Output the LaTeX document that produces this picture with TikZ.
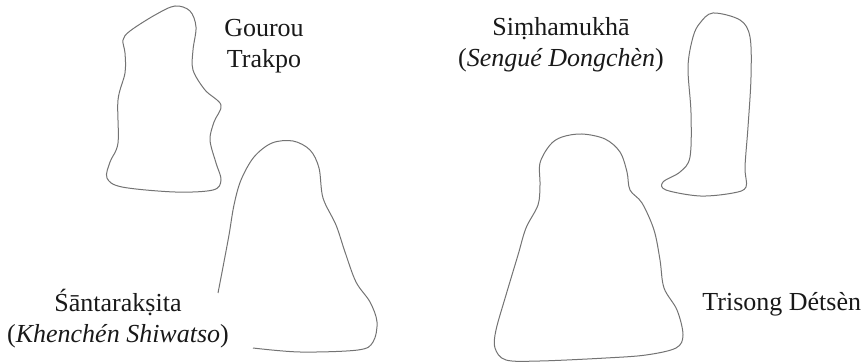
\documentclass[tikz,border=0pt]{standalone}
\usepackage{fontspec}
\setmainfont{Liberation Serif}
\usepackage{xcolor}
\usetikzlibrary{positioning}

\begin{document}
\begin{tikzpicture}[x=0.5pt, y=-0.5pt,
    contour/.style={draw=black!55, line width=0.5pt, line join=round},
    lbl/.style={inner sep=0pt, align=center, anchor=base, text=black!90,
                font=\fontsize{13}{15.5}\selectfont}
  ]
  \useasboundingbox (0,0) rectangle (866,362);

  % labels (anchor = baseline of the last line)
  \node[lbl] (gourou) at (264,68) {Gourou\\Trakpo};
  \node[lbl] (simha) at (561,67) {Si\d{m}hamukh\={a}\\(\textit{Sengu\'e Dongch\`en})};
  \node[lbl] (santa) at (118,343) {\'{S}\={a}ntarak\d{s}ita\\(\textit{Khench\'en Shiwatso})};
  \node[lbl, anchor=base west] (trisong) at (702,311) {Trisong D\'ets\`en};

  % outlines
  \draw[contour] plot[smooth cycle, tension=0.55] coordinates {
    (123,40) (130,31) (155,15) (175,6) (190,11) (196,27) (193,50) (193,70)
    (205,90) (221,105) (214,122) (210,140) (216,163) (221,180) (213,190)
    (175,192) (122,187) (107,178) (110,162) (118,143) (118,100) (125,73) (125,53)};
  \draw[contour] plot[smooth, tension=0.55] coordinates {
    (253,348) (300,352) (358,350) (373,342) (377,322) (370,302) (356,282)
    (345,252) (336,225) (323,198) (319,168) (310,150) (293,141) (272,143)
    (254,157) (241,180) (234,205) (229,235) (223,267) (218,293)};
  \draw[contour] plot[smooth cycle, tension=0.55] coordinates {
    (582,134) (605,139) (620,152) (627,172) (630,190) (642,203) (654,230)
    (660,260) (664,288) (677,310) (683,335) (676,348) (646,355) (606,358)
    (540,361) (506,360) (495,348) (496,330) (506,295) (518,255) (526,228)
    (538,205) (540,185) (540,163) (550,145) (562,137)};
  \draw[contour] plot[smooth cycle, tension=0.55] coordinates {
    (713,13) (740,20) (750,37) (751,77) (748,127) (745,167) (746,187)
    (733,193) (700,196) (666,190) (663,182) (680,172) (690,157) (691,113)
    (688,67) (693,37) (700,23)};
\end{tikzpicture}
\end{document}
